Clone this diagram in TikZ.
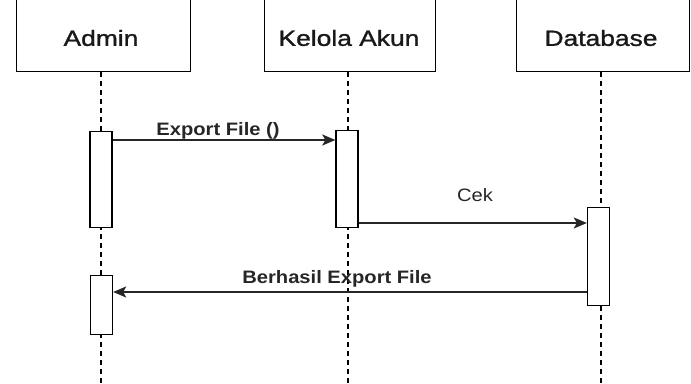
\documentclass[tikz,border=0pt]{standalone}
\usepackage{fontspec}
\setmainfont{Liberation Sans}
\newfontfamily\hdrfont[FakeStretch=1.2,FakeBold=1.2]{Liberation Sans}
\newfontfamily\msgfont[FakeStretch=1.12]{Liberation Sans}
\usetikzlibrary{arrows.meta}
\begin{document}
\begin{tikzpicture}[x=1pt,y=-1pt,
  header/.style={draw=black,line width=1.4pt,fill=white,inner sep=0pt,anchor=north west},
  hdrtext/.style={font=\hdrfont\fontsize{22}{26}\selectfont,text=black!90},
  actbox/.style={draw=black,line width=1.4pt,fill=white,inner sep=0pt,minimum width=22pt,anchor=north},
  lifeline/.style={draw=black,line width=1.4pt,dash pattern=on 5pt off 4pt},
  msg/.style={draw=black!85,line width=1.8pt,-{Stealth[length=13pt,width=11pt,inset=3pt]}},
  msglabel/.style={font=\msgfont\fontsize{18}{22}\selectfont,text=black!85,anchor=base}
]
\useasboundingbox (0,0) rectangle (691,383);
% header boxes
\node[header,minimum width=174.5pt,minimum height=81pt] (hA) at (15.5,-10) {};
\node[header,minimum width=171pt,minimum height=81pt] (hK) at (263.5,-10) {};
\node[header,minimum width=173.5pt,minimum height=81pt] (hD) at (515.5,-10) {};
\node[hdrtext] (tA) at (101,38) {Admin};
\node[hdrtext] (tK) at (349,38) {Kelola Akun};
\node[hdrtext] (tD) at (601,38) {Database};
% lifeline ends
\coordinate (eA) at (101,383);
\coordinate (eK) at (348,383);
\coordinate (eD) at (601,383);
\draw[lifeline] (hA.south -| eA) -- (eA);
\draw[lifeline] (hK.south -| eK) -- (eK);
\draw[lifeline] (hD.south -| eD) -- (eD);
% activation boxes
\node[actbox,minimum height=96.5pt] (a1) at (101,130.5) {};
\node[actbox,minimum height=97pt] (k1) at (347,130) {};
\node[actbox,minimum height=98pt] (d1) at (598.5,207) {};
\node[actbox,minimum height=59pt] (a2) at (101.5,275) {};
% messages
\coordinate (y1) at (0,140);
\coordinate (y2) at (0,223);
\coordinate (y3) at (0,292);
\draw[msg] (a1.east |- y1) -- (k1.west |- y1);
\draw[msg] (k1.east |- y2) -- (d1.west |- y2);
\draw[msg] (d1.west |- y3) -- (a2.east |- y3);
\node[msglabel] (l1) at (218,135) {\bfseries Export File ()};
\node[msglabel] (l2) at (475,201.5) {Cek};
\node[msglabel] (l3) at (337,283.5) {\bfseries Berhasil Export File};
\end{tikzpicture}
\end{document}
